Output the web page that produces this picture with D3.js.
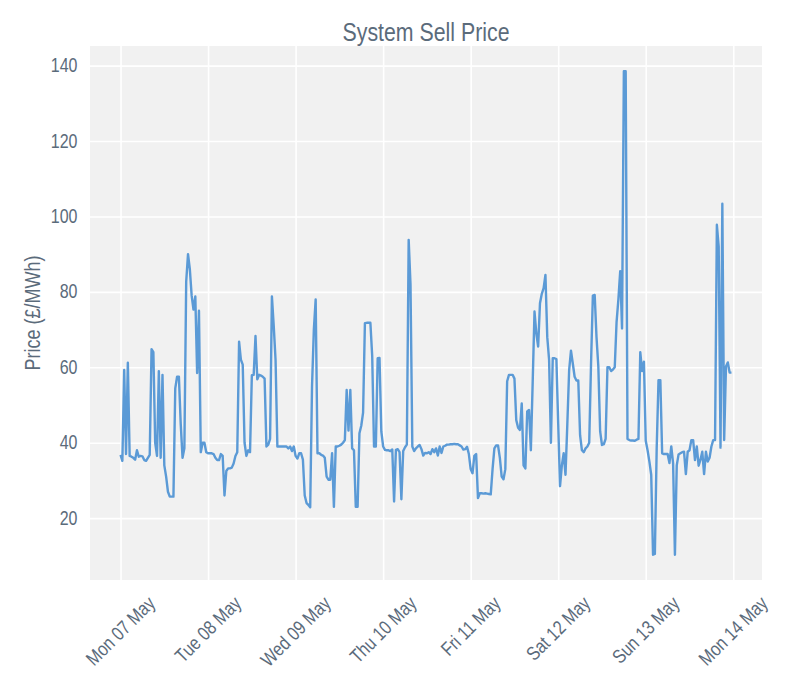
<!DOCTYPE html>
<html>
<head>
<meta charset="utf-8">
<script src="https://cdn.jsdelivr.net/npm/d3@7"></script>
<style>
  body { margin: 0; background: #fff; }
  text { font-family: "Liberation Sans", Arial, sans-serif; fill: #5b6b7b; }
</style>
</head>
<body>
<div id="chart"></div>
<script>
// System Sell Price, half-hourly, one array per day (£/MWh)
const mon07 = [36.8, 35.2, 59.3, 37, 61.2, 36.5, 36.3, 36, 35.5, 38, 36.3, 36.5,
  36.4, 35.4, 35.2, 36, 36.8, 64.8, 64, 40, 36.5, 59, 36, 58,
  34, 31, 27, 25.7, 25.7, 25.7, 54.4, 57.5, 57.5, 45, 36, 38.5,
  82.7, 90, 86, 79, 75.3, 78.8, 58.5, 75, 37.5, 40, 40, 37.5];
const tue08 = [37.2, 37.2, 37.2, 37, 36, 35.4, 35.4, 37, 36.5, 26, 32.5, 33.2,
  33.2, 33.4, 34.5, 36.5, 37.5, 66.8, 62, 60.7, 40, 36.5, 38, 37.5,
  57.9, 58, 68.3, 56.8, 58, 57.8, 57.5, 57, 39, 39.5, 41, 78.8,
  71, 62, 39, 39, 39, 39, 39, 39, 38.5, 39, 37.8, 39];
const wed09 = [36.5, 35.8, 37.2, 37.2, 35.5, 26, 24, 23.5, 22.9, 55, 70, 78,
  37.2, 37.2, 36.8, 36.6, 36, 31, 30.2, 30.2, 37.2, 23, 39, 39,
  39.2, 39.5, 40, 40.7, 54, 43.2, 54, 38.5, 38, 23, 23, 42.5,
  44.5, 48, 71.7, 71.8, 71.8, 71.8, 63, 39, 39, 62.4, 62.5, 43];
const thu10 = [39, 38.1, 38, 38, 37.8, 38.2, 24.4, 38.1, 38.3, 37.5, 25, 37.8,
  38.8, 39.5, 93.8, 82, 39, 37.8, 38.5, 39, 39.4, 38.3, 36.6, 37.3,
  37.2, 37.5, 37, 38.3, 37.5, 38.5, 36.6, 39, 37.3, 39, 39.2, 39.5,
  39.5, 39.6, 39.6, 39.7, 39.6, 39.6, 39.3, 39, 38.2, 38.3, 38.9, 37];
const fri11 = [33, 31.9, 36.5, 37, 25.3, 26.6, 26.6, 26.5, 26.6, 26.5, 26.4, 26.3,
  33, 38.5, 39.3, 39.3, 36, 31, 30.3, 33, 56.3, 58, 58, 58,
  57, 46, 44, 43.4, 50.4, 34, 33.2, 48.3, 48.7, 38, 56, 74.8,
  69, 65.5, 77, 79.5, 81, 84.5, 68, 62, 40, 62.4, 62.4, 62.2];
const sat12 = [45, 28.5, 34, 37.2, 31.5, 45, 59.3, 64.4, 61, 57.5, 56.5, 56.5,
  42, 38, 37.5, 38.5, 39, 40, 61, 79, 79.2, 68, 60.2, 43,
  39.4, 39.6, 41, 60, 60, 59, 59.4, 60, 72, 78, 85.5, 70.3,
  138.5, 138.5, 41, 40.7, 40.6, 40.6, 40.5, 40.8, 41, 64, 59, 61.5];
const sun13 = [40.5, 38, 35, 31.5, 10.3, 10.5, 38.5, 56.6, 56.6, 37.2, 37, 37,
  37, 34.6, 39, 34.6, 10.3, 34, 36.9, 37.2, 37.5, 37.6, 31.7, 37.6,
  38, 40.7, 40.7, 35.4, 39, 33.9, 35.5, 37.6, 31.7, 37.6, 35, 36,
  39, 40.7, 40.7, 97.8, 92, 38.7, 103.4, 40.7, 60.2, 61.3, 58.6, 58.6];

const yTicks = [20, 40, 60, 80, 100, 120, 140];
const xTickLabels = ["Mon 07 May", "Tue 08 May", "Wed 09 May", "Thu 10 May",
  "Fri 11 May", "Sat 12 May", "Sun 13 May", "Mon 14 May"];

const W = 800, H = 700;
const margin = {top: 46, right: 38, bottom: 120, left: 90};
const width = W - margin.left - margin.right;
const height = H - margin.top - margin.bottom;
const squeeze = 0.82; // the reference lettering is narrow

const prices = [].concat(mon07, tue08, wed09, thu10, fri11, sat12, sun13);
const start = Date.UTC(2018, 4, 7);
const halfHour = 30 * 60 * 1000;
const data = prices.map((v, i) => ({ t: new Date(start + i * halfHour), v: v }));

// matplotlib-like 5% margins on x
const tFirst = +data[0].t, tLast = +data[data.length - 1].t;
const pad = (tLast - tFirst) * 0.05;
const x = d3.scaleTime().domain([new Date(tFirst - pad), new Date(tLast + pad)]).range([0, width]);
const y = d3.scaleLinear().domain([3.6, 145.2]).range([height, 0]);

const dayTicks = xTickLabels.map((d, i) => new Date(start + i * 24 * 3600 * 1000));

const svg = d3.select('#chart').append('svg')
  .attr('width', W).attr('height', H);
const g = svg.append('g').attr('transform', 'translate(' + margin.left + ',' + margin.top + ')');

g.append('rect').attr('width', width).attr('height', height).attr('fill', '#f1f1f1');

// grid
g.append('g').attr('class', 'grid')
  .call(d3.axisLeft(y).tickValues(yTicks).tickSize(-width).tickFormat(''))
  .call(s => s.select('.domain').remove())
  .call(s => s.selectAll('line').attr('stroke', '#fff').attr('stroke-width', 1.6));
g.append('g').attr('class', 'grid')
  .attr('transform', 'translate(0,' + height + ')')
  .call(d3.axisBottom(x).tickValues(dayTicks).tickSize(-height).tickFormat(''))
  .call(s => s.select('.domain').remove())
  .call(s => s.selectAll('line').attr('stroke', '#fff').attr('stroke-width', 1.6));

// y tick labels
g.append('g').selectAll('text').data(yTicks).join('text')
  .attr('font-size', 19.5)
  .attr('text-anchor', 'end')
  .attr('dominant-baseline', 'central')
  .attr('transform', d => 'translate(-12.5,' + y(d) + ') scale(' + squeeze + ',1)')
  .text(d => d);

// x tick labels, rotated 45 and centred under each tick
const xl = g.append('g').attr('transform', 'translate(0,' + height + ')');
xl.selectAll('text').data(dayTicks).join('text')
  .attr('font-size', 19.5)
  .attr('text-anchor', 'middle')
  .attr('dominant-baseline', 'central')
  .text((d, i) => xTickLabels[i])
  .attr('transform', function(d) {
    const b = this.getBBox();
    const h = (b.width * squeeze + b.height * 0.75) / Math.SQRT2;
    return 'translate(' + x(d) + ',' + (14 + h / 2) + ') rotate(-45) scale(' + squeeze + ',1)';
  });

// line
const line = d3.line().x(d => x(d.t)).y(d => y(d.v));
g.append('path').datum(data)
  .attr('fill', 'none')
  .attr('stroke', '#5b9ad6')
  .attr('stroke-width', 2.4)
  .attr('stroke-linejoin', 'round')
  .attr('d', line);

// title and y label
svg.append('text')
  .attr('transform', 'translate(' + (margin.left + width / 2) + ',32) scale(' + squeeze + ',1)')
  .attr('text-anchor', 'middle').attr('dominant-baseline', 'central')
  .attr('font-size', 26)
  .text('System Sell Price');
svg.append('text')
  .attr('transform', 'translate(32,' + (margin.top + height / 2) + ') rotate(-90) scale(' + squeeze + ',1)')
  .attr('text-anchor', 'middle').attr('dominant-baseline', 'central')
  .attr('font-size', 22)
  .text('Price (£/MWh)');
</script>
</body>
</html>
